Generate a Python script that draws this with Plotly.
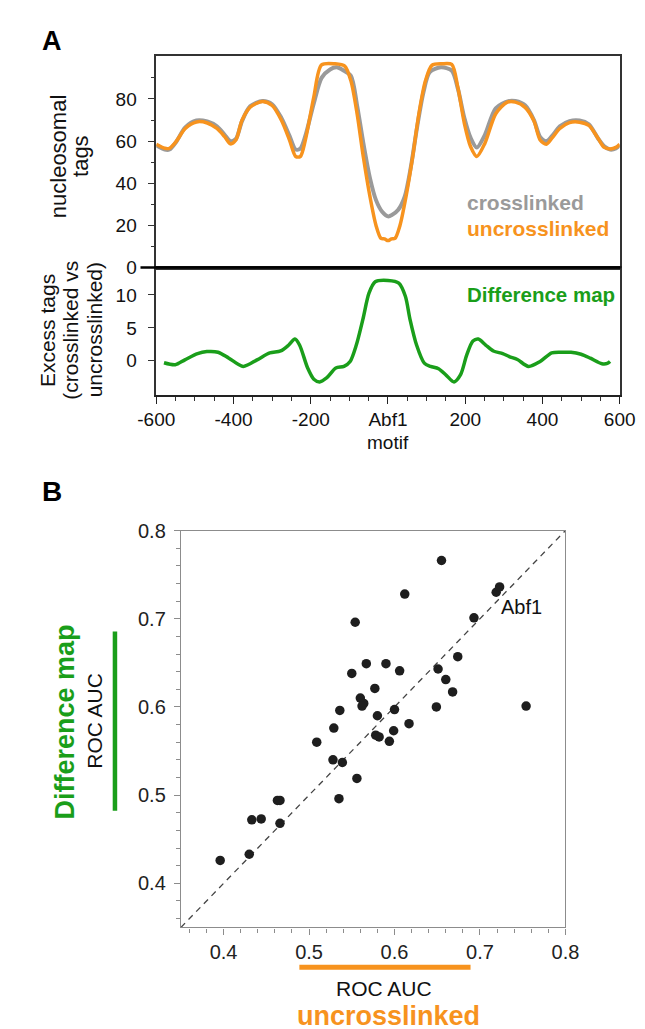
import plotly.graph_objects as go

# ---------------- Panel A data (position in bp relative to Abf1 motif) ----------------
uncl_x = [-600, -578, -566, -549, -525, -496, -468, -443, -423, -408, -394, -378, -357, -325, -300,
          -276, -255, -239, -227, -214, -192, -172, -137, -112, -96, -80, -64, -47, -31, -18, -9,
          0, 9, 18, 31, 47, 64, 80, 97, 114, 140, 165, 181, 198, 214, 230, 251, 279, 308, 330, 355,
          378, 394, 410, 425, 445, 470, 496, 520, 545, 560, 575, 590, 600]
uncl_y = [58.5, 56.6, 56.6, 59.7, 66.0, 69.1, 68.6, 66.0, 62.1, 58.7, 60.5, 69.9, 76.1, 78.8, 76.9,
          69.9, 60.5, 52.7, 52.7, 60.5, 81.0, 96.2, 96.7, 95.6, 88.6, 73.0, 52.7, 34.0, 20.0, 13.8, 13.6,
          12.8, 13.6, 13.8, 20.0, 34.0, 52.7, 73.0, 88.6, 96.0, 96.7, 96.4, 85.4, 68.2, 57.3, 52.7, 59.0,
          73.0, 78.4, 78.5, 76.0, 69.5, 60.5, 58.5, 61.5, 66.0, 68.8, 69.0, 67.5, 61.0, 57.0, 56.3, 57.0, 58.5]

cl_x = [-600, -578, -566, -549, -525, -496, -468, -443, -423, -408, -394, -378, -357, -325, -300,
        -276, -255, -239, -227, -214, -192, -172, -150, -133, -115, -96, -80, -63, -47, -31, -15,
        0, 10, 26, 43, 59, 75, 92, 108, 137, 165, 181, 198, 214, 230, 251, 279, 312, 330, 355,
        378, 394, 410, 425, 445, 470, 496, 520, 545, 560, 575, 590, 600]
cl_y = [58.0, 56.0, 56.0, 59.5, 66.5, 69.8, 69.3, 67.0, 63.0, 60.0, 61.0, 69.5, 76.5, 79.0, 77.5,
        71.0, 62.5, 56.0, 56.5, 62.5, 78.0, 90.0, 94.0, 95.0, 93.5, 91.0, 76.9, 58.2, 42.7, 32.0, 26.5,
        24.3, 24.9, 27.3, 33.5, 47.5, 66.2, 83.3, 92.7, 95.0, 93.5, 84.9, 70.8, 61.5, 57.0, 63.0, 75.6,
        79.0, 79.0, 77.0, 70.0, 62.0, 60.0, 62.5, 67.0, 69.5, 69.8, 68.0, 61.0, 57.5, 56.0, 56.5, 58.0]

diff_x = [-580, -551, -526, -493, -469, -440, -412, -375, -339, -306, -278, -257, -241, -229, -208,
          -192, -177, -159, -135, -114, -98, -82, -65, -49, -33, 0, 28, 45, 57, 74, 94, 110, 131,
          151, 171, 188, 204, 220, 234, 253, 273, 297, 314, 335, 364, 394, 424, 450, 474, 500, 524,
          554, 568, 575]
diff_y = [-0.3, -0.6, 0.15, 1.1, 1.4, 1.3, 0.4, -0.85, 0.15, 1.2, 1.5, 2.4, 3.3, 2.4, -1.1,
          -2.8, -3.2, -2.6, -1.1, -0.85, -0.1, 2.4, 6.3, 10.3, 12.0, 12.2, 11.8, 9.8, 6.3, 2.4, -0.35,
          -0.85, -1.2, -2.2, -3.2, -2.1, 0.9, 3.0, 3.3, 2.4, 1.5, 1.1, 0.65, 0.2, -0.85, -0.1, 1.2,
          1.3, 1.3, 1.0, 0.4, -0.45, -0.4, -0.1]

a_tickvals = [-600, -400, -200, 0, 200, 400, 600]
a_ticktext = ["-600", "-400", "-200", "Abf1", "200", "400", "600"]

# ---------------- Panel B data (ROC AUC) ----------------
auc_uncrosslinked = [0.655, 0.612, 0.719, 0.723, 0.554, 0.693, 0.674, 0.550, 0.567, 0.590, 0.606,
                     0.651, 0.660, 0.577, 0.668, 0.560, 0.564, 0.562, 0.536, 0.649, 0.754, 0.580,
                     0.600, 0.617, 0.599, 0.578, 0.582, 0.594, 0.529, 0.509, 0.528, 0.539, 0.556,
                     0.535, 0.463, 0.466, 0.433, 0.444, 0.466, 0.430, 0.396]
auc_difference = [0.766, 0.728, 0.730, 0.736, 0.696, 0.701, 0.657, 0.638, 0.649, 0.649, 0.641,
                  0.643, 0.631, 0.621, 0.617, 0.610, 0.604, 0.601, 0.596, 0.600, 0.601, 0.590,
                  0.597, 0.581, 0.573, 0.568, 0.566, 0.561, 0.576, 0.560, 0.540, 0.537, 0.519,
                  0.496, 0.494, 0.494, 0.472, 0.473, 0.468, 0.433, 0.426]
diag = [0.35, 0.80]
b_ticks = [0.4, 0.5, 0.6, 0.7, 0.8]
b_ticktext = ["0.4", "0.5", "0.6", "0.7", "0.8"]

ORANGE = "#f7931e"
GRAY = "#9a9a9a"
GREEN = "#1a9e1a"
FONT = "Liberation Sans, Arial, sans-serif"

W, H = 645, 1029
def px(x):
    return x / W
def py(y):
    return 1 - y / H

fig = go.Figure()

fig.add_trace(go.Scatter(x=cl_x, y=cl_y, mode="lines", line=dict(color=GRAY, width=4, shape="spline", smoothing=0.8),
                         xaxis="x", yaxis="y", showlegend=False, hoverinfo="skip"))
fig.add_trace(go.Scatter(x=uncl_x, y=uncl_y, mode="lines", line=dict(color=ORANGE, width=3.5, shape="spline", smoothing=0.8),
                         xaxis="x", yaxis="y", showlegend=False, hoverinfo="skip"))
fig.add_trace(go.Scatter(x=diff_x, y=diff_y, mode="lines", line=dict(color=GREEN, width=3.5, shape="spline", smoothing=0.8),
                         xaxis="x2", yaxis="y2", showlegend=False, hoverinfo="skip"))
fig.add_trace(go.Scatter(x=diag, y=diag, mode="lines", line=dict(color="#444444", width=1.3, dash="6px,5px"),
                         xaxis="x3", yaxis="y3", showlegend=False, hoverinfo="skip"))
fig.add_trace(go.Scatter(x=auc_uncrosslinked, y=auc_difference, mode="markers",
                         marker=dict(color="#1e1e1e", size=9.5, line=dict(width=0)),
                         xaxis="x3", yaxis="y3", showlegend=False, hoverinfo="skip"))

axA_dom_x = [px(136.7), px(626.7)]
tickfontA = dict(family=FONT, size=19, color="#111111")
tickfontB = dict(family=FONT, size=20, color="#222222")

fig.update_layout(
    width=W, height=H, margin=dict(l=0, r=0, t=0, b=0),
    paper_bgcolor="white", plot_bgcolor="white",
    font=dict(family=FONT),
    xaxis=dict(domain=axA_dom_x, range=[-600, 600], anchor="y", showgrid=False, zeroline=False,
               showline=True, mirror=True, linecolor="#333333", linewidth=1.5,
               showticklabels=False, ticks=""),
    yaxis=dict(domain=[py(254), py(38)], range=[0, 100.3], anchor="x", showgrid=False, zeroline=False,
               showline=True, mirror=True, linecolor="#333333", linewidth=1.5,
               tickmode="array", tickvals=[0, 20, 40, 60, 80], ticks="outside", ticklen=7,
               tickcolor="#333333", tickwidth=1.2, tickfont=tickfontA, ticklabelstandoff=7,
               minor=dict(tickmode="array", tickvals=[10, 30, 50, 70, 90], ticks="outside", ticklen=4,
                          tickcolor="#333333", tickwidth=1)),
    xaxis2=dict(domain=axA_dom_x, range=[-600, 600], anchor="y2", showgrid=False, zeroline=False,
                showline=True, mirror=True, linecolor="#222222", linewidth=1.5,
                tickmode="array", tickvals=a_tickvals, ticktext=a_ticktext, ticks="outside", ticklen=7,
                tickcolor="#222222", tickwidth=1.2, tickfont=tickfontA,
                minor=dict(tickmode="linear", tick0=0, dtick=50, ticks="outside", ticklen=4,
                           tickcolor="#333333", tickwidth=1)),
    yaxis2=dict(domain=[py(384), py(254)], range=[-5.16, 14.16], anchor="x2", showgrid=False, zeroline=False,
                showline=True, mirror=True, linecolor="#333333", linewidth=1.5,
                tickmode="array", tickvals=[0, 5, 10], ticks="outside", ticklen=7,
                tickcolor="#333333", tickwidth=1.2, tickfont=tickfontA, ticklabelstandoff=7),
    xaxis3=dict(domain=[px(162.7), px(569.3)], range=[0.35, 0.80], anchor="y3", showgrid=False, zeroline=False,
                showline=True, mirror=True, linecolor="#8c8c8c", linewidth=1.2,
                tickmode="array", tickvals=b_ticks, ticktext=b_ticktext,
                ticks="outside", ticklen=6, tickcolor="#8c8c8c", tickfont=tickfontB,
                minor=dict(tickmode="linear", tick0=0.36, dtick=0.02, ticks="outside", ticklen=4,
                           tickcolor="#8c8c8c")),
    yaxis3=dict(domain=[py(928.3), py(522.7)], range=[0.35, 0.80], anchor="x3", showgrid=False, zeroline=False,
                showline=True, mirror=True, linecolor="#8c8c8c", linewidth=1.2,
                tickmode="array", tickvals=b_ticks, ticktext=b_ticktext,
                ticks="outside", ticklen=6, tickcolor="#8c8c8c", tickfont=tickfontB, ticklabelstandoff=4,
                minor=dict(tickmode="linear", tick0=0.36, dtick=0.02, ticks="outside", ticklen=4,
                           tickcolor="#8c8c8c")),
)

shapes = [
    # thick separator at y = 0 of upper panel
    dict(type="line", xref="paper", yref="paper", x0=px(120), x1=px(627.5), y0=py(254), y1=py(254),
         line=dict(color="black", width=2.5)),
    # green bar beside left label of panel B
    dict(type="line", xref="paper", yref="paper", x0=px(93), x1=px(93), y0=py(626), y1=py(809),
         line=dict(color=GREEN, width=4.5)),
    # orange bar above bottom label of panel B
    dict(type="line", xref="paper", yref="paper", x0=px(288), x1=px(469), y0=py(969), y1=py(969),
         line=dict(color=ORANGE, width=5)),
]
fig.update_layout(shapes=shapes)

def ann(text, x, y, size, color="#111111", bold=False, angle=0, xanchor="center", yanchor="middle", xref="paper", yref="paper"):
    t = f"<b>{text}</b>" if bold else text
    return dict(text=t, x=x, y=y, xref=xref, yref=yref, showarrow=False, textangle=angle,
                xanchor=xanchor, yanchor=yanchor, align="center",
                font=dict(family=FONT, size=size, color=color))

annotations = [
    ann("A", px(26), py(22), 27, "black", bold=True),
    ann("B", px(26), py(483), 28, "black", bold=True),
    ann("nucleosomal", px(33), py(140), 22, "#111111", angle=-90),
    ann("tags", px(56), py(140), 22, "#111111", angle=-90),
    ann("Excess tags", px(21), py(318), 21, "#111111", angle=-90),
    ann("(crosslinked vs", px(46), py(318), 21, "#111111", angle=-90),
    ann("uncrosslinked)", px(71), py(318), 21, "#111111", angle=-90),
    ann("crosslinked", px(463), py(187), 21, GRAY, bold=True, xanchor="left"),
    ann("uncrosslinked", px(463), py(214), 21, ORANGE, bold=True, xanchor="left"),
    ann("Difference map", px(463), py(282), 20.5, GREEN, bold=True, xanchor="left"),
    ann("motif", px(381.7), py(433), 19, "#111111"),
    ann("Abf1", 0.749, 0.713, 20, "#111111", xref="x3", yref="y3"),
    ann("Difference map", px(40), py(718), 27, GREEN, bold=True, angle=-90),
    ann("ROC AUC", px(72), py(717), 21, "#111111", angle=-90),
    ann("ROC AUC", px(378), py(991), 21, "#111111"),
    ann("uncrosslinked", px(382), py(1019), 27, ORANGE, bold=True),
]
fig.update_layout(annotations=annotations)

fig.write_html("out.html")
